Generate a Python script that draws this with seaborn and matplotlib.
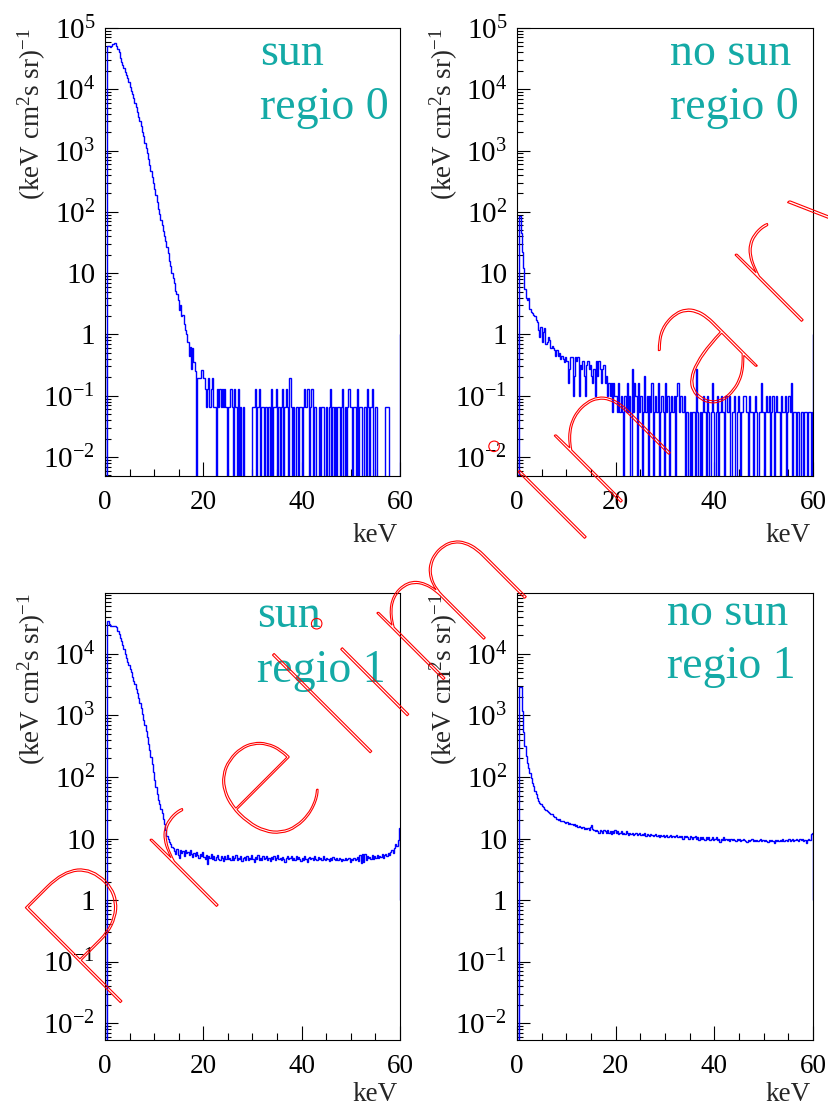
import numpy as np
import matplotlib
matplotlib.use("Agg")
import matplotlib.pyplot as plt
import seaborn as sns
from matplotlib.ticker import FixedLocator, FixedFormatter, LogLocator, NullFormatter, MultipleLocator
from matplotlib.textpath import TextPath
from matplotlib.patches import PathPatch
from matplotlib.font_manager import FontProperties, findfont, get_font
from matplotlib.transforms import Affine2D

# 240 bins of 0.25 keV between 0 and 60 keV
bin_edges = np.linspace(0, 60, 241)

# rate per bin, (keV cm^2 s sr)^-1
sun_regio0 = [
    0, 0, 50000, 50000, 49000, 51000, 55000, 56000, 56000, 51000,
    46000, 40000, 33000, 28000, 25000, 22000, 19000, 17000, 15000, 13000,
    11000, 9500, 8300, 7100, 6000, 5100, 4300, 3500, 3000, 2500,
    2000, 1700, 1350, 1100, 910, 740, 590, 470, 370, 300,
    240, 190, 145, 112, 91, 74, 60, 49, 40, 33,
    27, 21, 16, 13, 10, 8.3, 6.8, 5.2, 4.6, 3.6,
    2.5, 3.0, 2.0, 2.1, 1.5, 1.2, 1.0, 0.76, 0.45, 0.63,
    0.27, 0.6, 0.35, 0.25, 0, 0.195, 0.195, 0.195, 0.26, 0.26,
    0.195, 0.13, 0.066, 0.13, 0.195, 0.066, 0.13, 0.195, 0.066, 0.066,
    0, 0.13, 0.066, 0.13, 0.066, 0.13, 0.066, 0.13, 0.066, 0,
    0.066, 0.066, 0.13, 0.066, 0, 0.13, 0.066, 0, 0.13, 0,
    0.066, 0, 0.066, 0, 0, 0, 0, 0, 0, 0,
    0.066, 0.066, 0.13, 0, 0.066, 0.13, 0, 0.066, 0.066, 0,
    0.066, 0.066, 0, 0.066, 0, 0.13, 0, 0.066, 0.066, 0.13,
    0, 0.066, 0, 0.066, 0.13, 0, 0.066, 0.13, 0.066, 0,
    0.195, 0.066, 0, 0.066, 0, 0.066, 0.066, 0, 0.066, 0.066,
    0, 0.066, 0.13, 0.066, 0.13, 0.13, 0, 0.066, 0.13, 0,
    0.066, 0.066, 0, 0, 0.066, 0, 0.066, 0.066, 0, 0,
    0.066, 0, 0.066, 0.13, 0, 0.066, 0, 0.066, 0, 0.066,
    0.066, 0, 0.066, 0.13, 0, 0.066, 0, 0.066, 0.13, 0.066,
    0.066, 0, 0.066, 0.066, 0, 0.13, 0, 0.066, 0.066, 0,
    0, 0.066, 0, 0.13, 0.066, 0, 0.066, 0.13, 0, 0,
    0.066, 0, 0, 0, 0, 0, 0, 0, 0.066, 0.066,
    0.066, 0, 0, 0, 0, 0, 0, 0, 0, 0,
]

nosun_regio0 = [
    0, 0, 87, 45, 22, 12, 5.5, 3.9, 3.6, 3.9,
    2.6, 2.3, 2.2, 2.1, 2.0, 1.7, 1.6, 1.2, 0.9, 1.3,
    0.75, 1.1, 1.25, 0.7, 0.75, 0.9, 0.8, 0.6, 0.65, 0.6,
    0.55, 0.45, 0.55, 0.45, 0.5, 0.4, 0.45, 0.4, 0.35, 0.43,
    0.37, 0.16, 0.27, 0.43, 0.43, 0.1, 0.21, 0.43, 0.37, 0.43,
    0.1, 0.32, 0.27, 0.37, 0.21, 0.1, 0.32, 0.37, 0.27, 0.32,
    0.21, 0.16, 0.27, 0.1, 0.37, 0.21, 0.37, 0.27, 0.16, 0.27,
    0.32, 0.16, 0.21, 0.1, 0.16, 0.1, 0.16, 0.054, 0.16, 0.1,
    0.1, 0.054, 0.16, 0.054, 0.1, 0.054, 0, 0.1, 0.054, 0.16,
    0.054, 0.1, 0, 0.27, 0.054, 0.16, 0.1, 0, 0.16, 0.054,
    0.1, 0, 0.054, 0.21, 0.054, 0.1, 0, 0.1, 0.054, 0.16,
    0, 0.054, 0.1, 0.054, 0.16, 0, 0.054, 0.1, 0.054, 0,
    0.16, 0.054, 0.1, 0, 0.054, 0.1, 0.054, 0.1, 0, 0.1,
    0.16, 0.054, 0.1, 0.1, 0.054, 0.1, 0, 0.054, 0.054, 0,
    0.054, 0, 0.054, 0.054, 0, 0.27, 0.054, 0, 0.054, 0,
    0.054, 0.1, 0.054, 0, 0.1, 0.054, 0, 0.054, 0.16, 0.054,
    0, 0.054, 0.1, 0, 0.054, 0.1, 0.054, 0.054, 0, 0.1,
    0.054, 0.054, 0.1, 0, 0.054, 0.054, 0.1, 0, 0.054, 0.1,
    0.054, 0, 0.054, 0.1, 0.1, 0.1, 0.054, 0, 0.1, 0.054,
    0.054, 0, 0.054, 0.1, 0.054, 0, 0.054, 0.054, 0.16, 0.054,
    0, 0.054, 0.1, 0.054, 0.1, 0, 0.054, 0.1, 0, 0.054,
    0.1, 0.054, 0.054, 0, 0.1, 0.054, 0.054, 0.1, 0, 0.054,
    0.1, 0.054, 0.16, 0, 0.054, 0.054, 0, 0.054, 0.054, 0,
    0.054, 0.054, 0, 0.054, 0.054, 0, 0.054, 0.054, 0, 0.054,
]

sun_regio1 = [
    0, 0, 35000, 31000, 29000, 29000, 28000, 29000, 28000, 27000,
    24000, 21000, 18000, 16000, 14000, 12000, 10000, 8700, 7400, 6500,
    5800, 5000, 4300, 3700, 3200, 2700, 2300, 1900, 1600, 1300,
    1050, 850, 700, 560, 450, 350, 270, 210, 160, 120,
    90, 68, 52, 43, 36, 30, 26, 21, 17, 14,
    11, 10, 8.7, 8.0, 7.4, 7.0, 6.2, 5.6, 6.8, 5.4,
    4.8, 6.6, 5.9, 6.3, 5.2, 6.5, 5.8, 6.0, 5.3, 6.4,
    5.5, 5.0, 5.9, 5.2, 6.1, 5.4, 4.9, 5.7, 5.2, 6.0,
    5.0, 4.6, 5.4, 3.9, 5.1, 4.8, 5.5, 4.6, 5.2, 4.4,
    5.0, 5.3, 4.7, 4.5, 5.2, 4.8, 4.3, 5.1, 4.7, 5.4,
    4.6, 4.9, 4.4, 5.2, 4.5, 4.8, 5.3, 4.4, 4.9, 4.6,
    5.1, 4.3, 4.8, 5.0, 4.5, 5.2, 4.4, 4.9, 4.7, 5.3,
    4.6, 4.2, 5.0, 4.7, 5.4, 4.5, 4.9, 4.4, 5.1, 4.6,
    4.8, 5.2, 4.5, 4.9, 4.3, 5.0, 4.7, 5.1, 4.4, 4.8,
    5.3, 4.6, 4.9, 4.5, 5.0, 4.7, 4.2, 4.9, 5.2, 4.6,
    4.8, 5.1, 4.5, 4.9, 4.4, 5.2, 4.7, 5.0, 4.6, 4.3,
    4.9, 4.5, 5.1, 4.7, 4.2, 4.8, 5.0, 4.6, 4.9, 4.4,
    5.2, 4.7, 4.5, 5.0, 4.6, 4.8, 4.4, 5.1, 4.7, 4.5,
    4.9, 4.6, 4.3, 4.8, 4.5, 5.0, 4.6, 4.4, 4.8, 4.5,
    4.9, 4.6, 4.3, 4.7, 4.5, 4.9, 4.4, 4.6, 4.8, 4.2,
    4.7, 4.5, 4.9, 4.4, 4.6, 5.0, 4.3, 5.4, 4.0, 5.6,
    4.1, 5.5, 4.4, 5.2, 4.8, 5.0, 4.6, 5.3, 4.7, 5.1,
    4.9, 5.4, 4.8, 5.2, 5.0, 5.5, 4.9, 5.3, 5.6, 5.1,
    5.8, 5.4, 6.0, 6.4, 5.9, 7.0, 8.0, 7.5, 9.5, 15,
]

nosun_regio1 = [
    0, 0, 2900, 2900, 1200, 530, 320, 220, 170, 140,
    118, 95, 80, 71, 60, 52, 45, 41, 38, 36,
    34, 32, 30, 29, 28, 27, 26, 25, 25, 23,
    22, 22.5, 21, 20, 20.5, 19.5, 19, 19.5, 18.5, 18,
    18.5, 17.5, 18, 17, 17.5, 16.5, 17, 16, 16.5, 15.5,
    16, 15.5, 15, 15.5, 14.5, 15, 14.5, 15, 14, 15.5,
    16.5, 14.5, 13.5, 13, 13.5, 13, 12.5, 13.5, 13, 12.5,
    13.5, 13, 12.5, 13.5, 12.5, 13, 12, 13, 12.5, 13.5,
    12.5, 13, 12, 12.5, 13, 12, 12.5, 12, 13, 12.5,
    11.5, 12.5, 12, 12.5, 11.5, 12, 12.5, 11.5, 12, 12.5,
    11.5, 12, 11.5, 12.5, 11, 12, 11.5, 11, 12, 11.5,
    11, 11.5, 12, 11, 11.5, 10.5, 11.5, 11, 11.5, 10.5,
    11, 11.5, 10.5, 11, 11.5, 10.5, 11, 10.5, 11, 11.5,
    10.5, 11, 10.5, 11, 10, 11, 10.5, 11, 10.5, 10,
    11, 10.5, 10, 10.5, 11, 10, 10.5, 9.5, 10.5, 10,
    10.5, 10, 9.5, 10.5, 10, 10.5, 9.5, 10, 10.5, 9.5,
    10, 10.5, 9.5, 10, 8.8, 10, 9.5, 10.5, 9.5, 10,
    9.5, 10, 9, 10, 9.5, 10, 9.5, 9, 10, 9.5,
    10, 9, 9.5, 10, 9.5, 9, 8.8, 9.5, 9, 9.5,
    10, 9, 9.5, 9, 9.5, 9, 9.5, 10, 9, 9.5,
    9, 9.5, 9, 8.8, 9.5, 9, 9.5, 9, 8.6, 9.5,
    9, 9.5, 9, 9.5, 9, 10, 9, 9.5, 9.5, 9,
    10, 9, 9.5, 10, 9, 9.5, 10, 9.5, 9, 10,
    9.5, 10, 9, 9.5, 8.6, 9.5, 10, 9.5, 12, 12.5,
]

panel_data = [sun_regio0, nosun_regio0, sun_regio1, nosun_regio1]
panel_text = [("sun", "regio 0"), ("no sun", "regio 0"),
              ("sun", "regio 1"), ("no sun", "regio 1")]

ytick_values = [1e-2, 1e-1, 1, 10, 1e2, 1e3, 1e4, 1e5]
ytick_labels = ["$10^{-2}$", "$10^{-1}$", "1", "10", "$10^{2}$", "$10^{3}$", "$10^{4}$", "$10^{5}$"]
xtick_values = [0, 20, 40, 60]

sns.set_theme(style="ticks")
plt.rcParams["font.family"] = ["Liberation Serif", "DejaVu Serif"]
plt.rcParams["mathtext.fontset"] = "custom"
plt.rcParams["mathtext.rm"] = "Liberation Serif"
plt.rcParams["mathtext.it"] = "Liberation Serif:italic"

W, H = 829, 1109
fig = plt.figure(figsize=(W / 100, H / 100), dpi=100)
fig.patch.set_facecolor("white")

# pixel boxes of the four frames: left, top, right, bottom
frames = [(105, 28, 400, 476), (517, 28, 813, 476),
          (105, 593, 400, 1040), (517, 593, 813, 1040)]
ylims = [(4.9e-3, 1e5), (4.9e-3, 1e5), (5.3e-3, 0.98e5), (5.3e-3, 0.98e5)]
text_pos = [(260, 65, 119), (670, 65, 119), (257, 627, 682), (667, 625, 678)]
kev_gap = [66, 66, 61, 61]
teal = "#14aaa6"

for k in range(4):
    l, t, r, b = frames[k]
    ax = fig.add_axes([l / W, 1 - b / H, (r - l) / W, (b - t) / H])
    ax.set_facecolor("white")
    ax.stairs(panel_data[k], bin_edges, baseline=1, color="#0000ff", lw=1.0)
    ax.set_yscale("log")
    ax.set_xlim(0, 60)
    ax.set_ylim(*ylims[k])
    ax.yaxis.set_major_locator(FixedLocator(ytick_values))
    ax.yaxis.set_major_formatter(FixedFormatter(ytick_labels))
    ax.yaxis.set_minor_locator(LogLocator(base=10, subs=np.arange(2, 10), numticks=30))
    ax.yaxis.set_minor_formatter(NullFormatter())
    ax.xaxis.set_major_locator(FixedLocator(xtick_values))
    ax.xaxis.set_minor_locator(MultipleLocator(5))
    ax.tick_params(which="both", direction="in", top=False, right=False,
                   colors="black", width=0.8)
    ax.tick_params(axis="y", which="major", length=9.5, pad=7, labelsize=21)
    ax.tick_params(axis="y", which="minor", length=4.5)
    ax.tick_params(axis="x", which="major", length=10, pad=10, labelsize=19.5)
    ax.tick_params(axis="x", which="minor", length=5)
    for s in ax.spines.values():
        s.set_color("black")
        s.set_linewidth(0.8)
    ax.grid(False)

    x0, y1, y2 = text_pos[k]
    fig.text(x0 / W, 1 - y1 / H, panel_text[k][0], color=teal, fontsize=33,
             ha="left", va="baseline")
    fig.text(x0 / W, 1 - y2 / H, panel_text[k][1], color=teal, fontsize=33,
             ha="left", va="baseline")
    fig.text((l - 73) / W, 1 - t / H, "(keV cm$^{2}$s sr)$^{-1}$", rotation=90,
             fontsize=19.5, ha="center", va="top")
    fig.text((r - 2) / W, 1 - (b + kev_gap[k]) / H, "keV", fontsize=19.5,
             ha="right", va="baseline")

# hollow "Preliminary" stamp, 45 degrees, widely tracked letters
stamp_word = "Preliminary"
stamp_size = 192
stamp_track = 1.31
fp = FontProperties(family="Lato", weight=100)
font = get_font(findfont(fp))
font.set_size(stamp_size, 72)
advances = [font.load_char(ord(ch)).linearHoriAdvance / 65536 * stamp_track
            for ch in stamp_word]
offsets = np.concatenate([[0], np.cumsum(advances)[:-1]])

# anchor: foot of the first "i" stem sits at pixel (408, 715) of the page
i_box = TextPath((0, 0), "i", size=stamp_size, prop=fp).get_extents()
i_stem = offsets[4] + 0.5 * (i_box.x0 + i_box.x1)
c = np.cos(np.radians(45))
ox = 408 - i_stem * c
oy = (H - 715) - i_stem * c

for ch, off in zip(stamp_word, offsets):
    glyph = TextPath((0, 0), ch, size=stamp_size, prop=fp)
    tr = Affine2D().translate(off, 0).rotate_deg(45).translate(ox, oy)
    fig.add_artist(PathPatch(glyph, facecolor="none", edgecolor="red",
                             lw=0.8, transform=tr, zorder=20))

fig.savefig("out.png", dpi=100, facecolor="white")
